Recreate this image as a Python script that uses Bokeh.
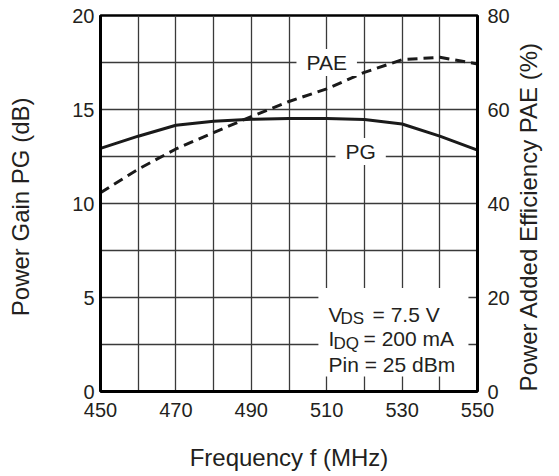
import math
from bokeh.plotting import figure
from bokeh.models import LinearAxis, Range1d, FixedTicker, Label, BoxAnnotation
from bokeh.embed import file_html
from bokeh.resources import INLINE

# ---- data ----
freq_mhz = [450, 460, 470, 480, 490, 500, 510, 520, 530, 540, 550]
power_gain_db = [12.93, 13.58, 14.16, 14.38, 14.48, 14.52, 14.52, 14.47, 14.23, 13.58, 12.84]
pae_pct = [42.3, 47.3, 51.6, 55.1, 58.5, 61.7, 64.4, 67.9, 70.6, 71.1, 69.7]

x_tick_labels = [450, 470, 490, 510, 530, 550]
x_grid_lines = [450, 460, 470, 480, 490, 500, 510, 520, 530, 540, 550]
pg_ticks = [0, 5, 10, 15, 20]
pg_grid_lines = [0, 2.5, 5, 7.5, 10, 12.5, 15, 17.5, 20]
pae_ticks = [0, 20, 40, 60, 80]

FONT = "Liberation Sans"
TEXT = "#231f20"
LINE = "#1a1a1a"

p = figure(width=559, height=476,
           x_range=Range1d(450, 550), y_range=Range1d(0, 20),
           output_backend="svg", toolbar_location=None,
           min_border_left=100, min_border_right=82,
           min_border_top=15, min_border_bottom=85)
p.extra_y_ranges = {"pae": Range1d(0, 80)}
p.background_fill_color = "white"
p.border_fill_color = "white"
p.outline_line_color = "black"
p.outline_line_width = 2.5

right_axis = LinearAxis(y_range_name="pae")
p.add_layout(right_axis, "right")

p.xaxis.ticker = FixedTicker(ticks=x_tick_labels)
p.yaxis[0].ticker = FixedTicker(ticks=pg_ticks)
right_axis.ticker = FixedTicker(ticks=pae_ticks)

for ax in [p.xaxis[0], p.yaxis[0], right_axis]:
    ax.major_tick_line_color = None
    ax.minor_tick_line_color = None
    ax.major_tick_in = 0
    ax.major_tick_out = 0
    ax.minor_tick_in = 0
    ax.minor_tick_out = 0
    ax.axis_line_color = "black"
    ax.axis_line_width = 3
    ax.major_label_text_font = FONT
    ax.major_label_text_font_size = "20px"
    ax.major_label_text_color = TEXT
    ax.axis_label_text_font = FONT
    ax.axis_label_text_font_size = "24px"
    ax.axis_label_text_font_style = "normal"
    ax.axis_label_text_color = TEXT

p.xaxis.axis_label = "Frequency f (MHz)"
p.xaxis.major_label_standoff = 11
p.xaxis.axis_label_standoff = 24
p.yaxis[0].axis_label = "Power  Gain PG (dB)"
p.yaxis[0].major_label_standoff = 6
p.yaxis[0].axis_label_standoff = 35
right_axis.major_label_standoff = 10

right_axis.axis_label = "Power Added Efficiency PAE (%)"
right_axis.axis_label_orientation = math.pi / 2
right_axis.axis_label_align = "start"
right_axis.axis_label_standoff = 16

p.xgrid.ticker = FixedTicker(ticks=x_grid_lines)
p.ygrid.ticker = FixedTicker(ticks=pg_grid_lines)
for g in [p.xgrid[0], p.ygrid[0]]:
    g.grid_line_color = "#3a3a3a"
    g.grid_line_width = 1.3

# curves
p.line(freq_mhz, power_gain_db, line_width=3, line_color=LINE)
p.line(freq_mhz, pae_pct, y_range_name="pae", line_width=3,
       line_color=LINE, line_dash="10 6")

# curve labels on grid lines
p.add_layout(Label(x=510, y=17.5, text="PAE", text_align="center",
                   text_baseline="middle", text_font=FONT,
                   text_font_size="21px", text_color=TEXT,
                   background_fill_color="white", padding=(10, 2)))
p.add_layout(Label(x=519, y=12.5, y_offset=5, text="PG", text_align="center",
                   text_baseline="middle", text_font=FONT,
                   text_font_size="21px", text_color=TEXT,
                   background_fill_color="white", padding=(10, 2)))

# conditions box
p.add_layout(BoxAnnotation(left=507.8, right=547.6, bottom=0.8, top=5.5,
                           fill_color="white", fill_alpha=1.0, line_color=None,
                           level="annotation"))

ANN_X = 510.5
line_y = [4.11, 2.84, 1.45]
main_kw = dict(text_font=FONT, text_font_size="21px", text_color=TEXT,
               text_baseline="alphabetic", text_align="left")
sub_kw = dict(text_font=FONT, text_font_size="17px", text_color=TEXT,
              text_baseline="alphabetic", text_align="left")

p.add_layout(Label(x=ANN_X, y=line_y[0], text="V", **main_kw))
p.add_layout(Label(x=ANN_X, y=line_y[0], x_offset=12, y_offset=-4, text="DS", **sub_kw))
p.add_layout(Label(x=ANN_X, y=line_y[0], x_offset=44, text="= 7.5 V", **main_kw))

p.add_layout(Label(x=ANN_X, y=line_y[1], text="I", **main_kw))
p.add_layout(Label(x=ANN_X, y=line_y[1], x_offset=5, y_offset=-5, text="DQ", **sub_kw))
p.add_layout(Label(x=ANN_X, y=line_y[1], x_offset=35, text="= 200 mA", **main_kw))

p.add_layout(Label(x=ANN_X, y=line_y[2], text="Pin = 25 dBm", **main_kw))

open("out.html", "w").write(file_html(p, INLINE))
